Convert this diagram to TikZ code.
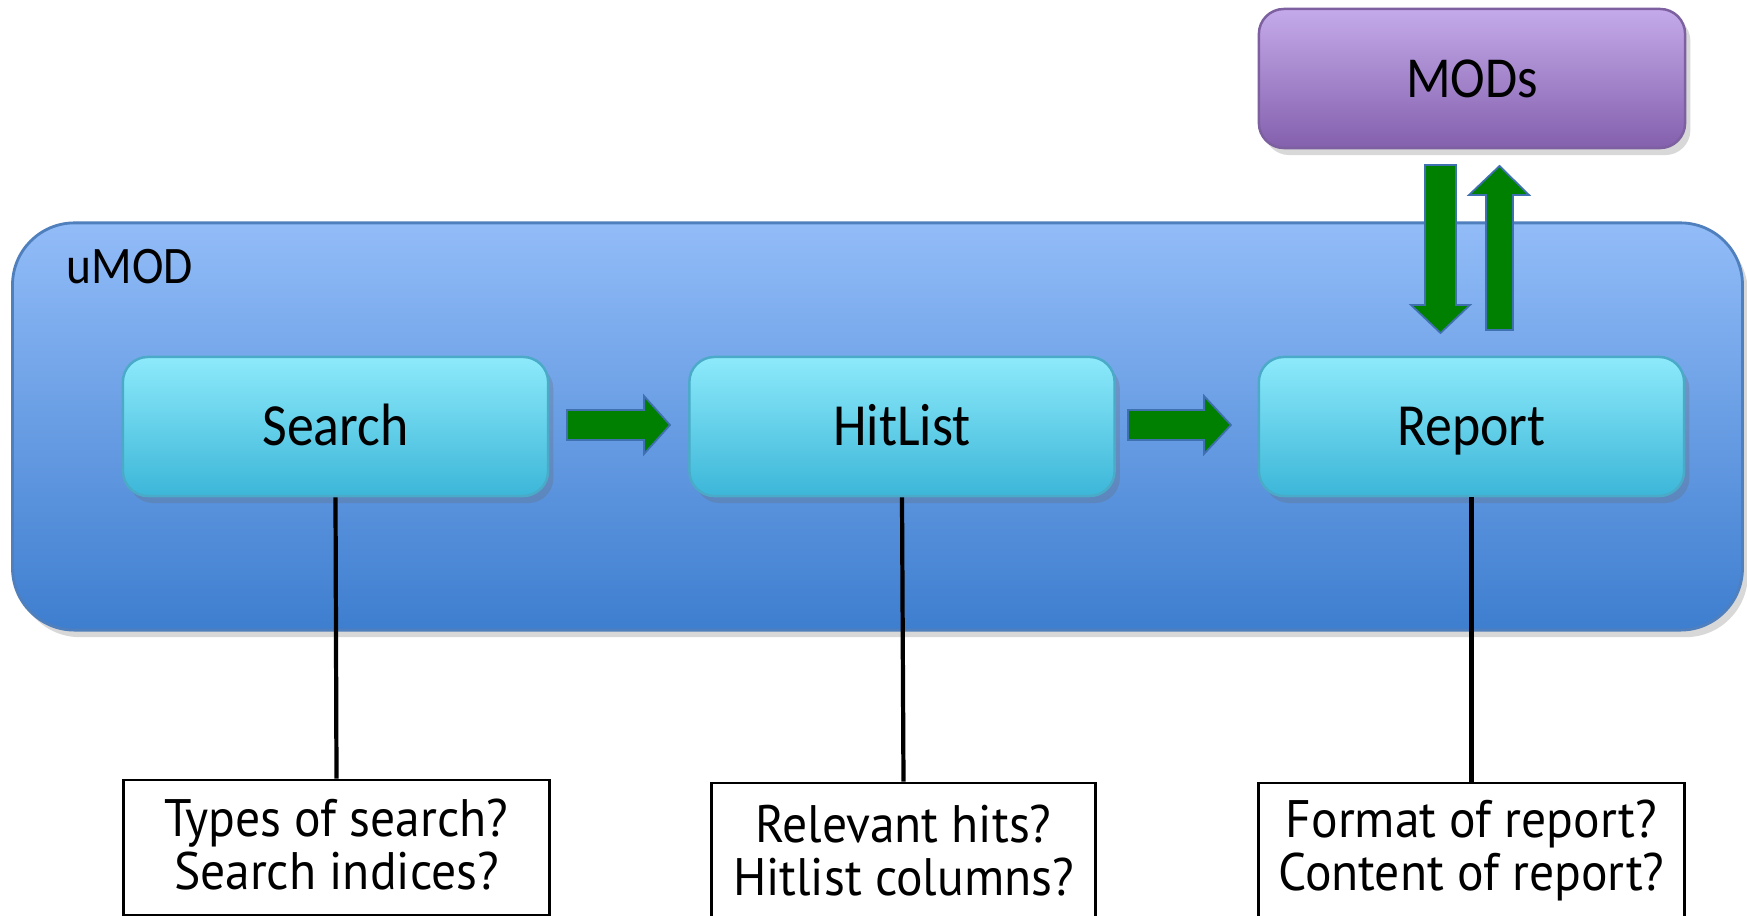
\documentclass[tikz,border=0pt]{standalone}
\usepackage{fontspec}
\setmainfont{Carlito}[FakeStretch=0.9]
\newfontfamily\qfont{PT Sans}[FakeStretch=0.94]
\usetikzlibrary{shadows}
\definecolor{umodtop}{HTML}{92BCF8}
\definecolor{umodbot}{HTML}{3E7ECF}
\definecolor{umodline}{HTML}{4F7FBC}
\definecolor{boxtop}{HTML}{8DEAFB}
\definecolor{boxbot}{HTML}{3CB6D8}
\definecolor{boxline}{HTML}{4AAAC8}
\definecolor{modtop}{HTML}{C4AAEA}
\definecolor{modbot}{HTML}{8460AD}
\definecolor{modline}{HTML}{7D60A0}
\definecolor{arrowgreen}{HTML}{008000}
\definecolor{arrowline}{HTML}{3F70B0}
\begin{document}
\begin{tikzpicture}[x=0.01cm,y=-0.01cm,
  softshadow/.style={drop shadow={shadow xshift=1.5pt,shadow yshift=-2pt,opacity=0.25,fill=black!60}},
  umodbox/.style={draw=umodline,line width=0.8pt,rounded corners=0.62cm,top color=umodtop,bottom color=umodbot,
     minimum width=17.29cm,minimum height=4.07cm,inner sep=0pt,softshadow},
  stagebox/.style={draw=boxline,line width=0.7pt,rounded corners=0.25cm,top color=boxtop,bottom color=boxbot,
     minimum width=4.25cm,minimum height=1.39cm,inner sep=0pt,softshadow,font=\fontsize{17}{20}\selectfont,
     text height=11pt,text depth=0pt},
  modbox/.style={draw=modline,line width=0.7pt,rounded corners=0.25cm,top color=modtop,bottom color=modbot,
     minimum width=4.26cm,minimum height=1.39cm,inner sep=0pt,softshadow,font=\fontsize{16.5}{20}\selectfont,
     text height=10.6pt,text depth=0pt},
  qbox/.style={draw=black,line width=0.8pt,fill=white,inner sep=0pt},
  qtext/.style={align=center,inner sep=0pt,font=\qfont\fontsize{15}{15.2}\selectfont},
  greenarrow/.style={fill=arrowgreen,draw=arrowline,line width=0.5pt,line join=miter},
  stem/.style={draw=black,line width=1.2pt}
]
\useasboundingbox[fill=white] (0,0) rectangle (1747,916);

% outer container
\node[umodbox] (umod) at (877.5,426.5) {};
\node[anchor=west,inner sep=0pt,font=\fontsize{15}{18}\selectfont] (umodlabel) at (66,267) {uMOD};

% MODs
\node[modbox] (mods) at (1472,78.5) {MODs};

% stages
\node[stagebox] (search) at (335.5,426.5) {Search};
\node[stagebox] (hitlist) at (902,426.5) {HitList};
\node[stagebox] (report) at (1471.5,426.5) {Report};

% green block arrows
\draw[greenarrow] (567,410) -- (644,410) -- (644,396) -- (670,425) -- (644,454) -- (644,440) -- (567,440) -- cycle;
\draw[greenarrow] (1128,410) -- (1204,410) -- (1204,396) -- (1231,425) -- (1204,454) -- (1204,440) -- (1128,440) -- cycle;
\draw[greenarrow] (1425,165) -- (1456,165) -- (1456,305) -- (1470,305) -- (1440.5,333) -- (1411,305) -- (1425,305) -- cycle;
\draw[greenarrow] (1486,330) -- (1513,330) -- (1513,195) -- (1529,195) -- (1499.5,166) -- (1469,195) -- (1486,195) -- cycle;

% question boxes
\node[qbox,minimum width=4.25cm,minimum height=1.35cm] (q1) at (336.5,847.5) {};
\node[qbox,minimum width=3.83cm,minimum height=1.50cm] (q2) at (903.5,858) {};
\node[qbox,minimum width=4.25cm,minimum height=1.50cm] (q3) at (1471.5,858) {};
\node[qtext] (q1t) at (336.5,844.5) {Types of search?\\Search indices?};
\node[qtext] (q2t) at (903.5,850.5) {Relevant hits?\\Hitlist columns?};
\node[qtext] (q3t) at (1471.5,850.5) {Format of report?\\Content of report?};

% stems
\draw[stem] (search.south) -- (q1.north);
\draw[stem] (hitlist.south) -- (q2.north);
\draw[stem] (report.south) -- (q3.north);
\end{tikzpicture}
\end{document}
